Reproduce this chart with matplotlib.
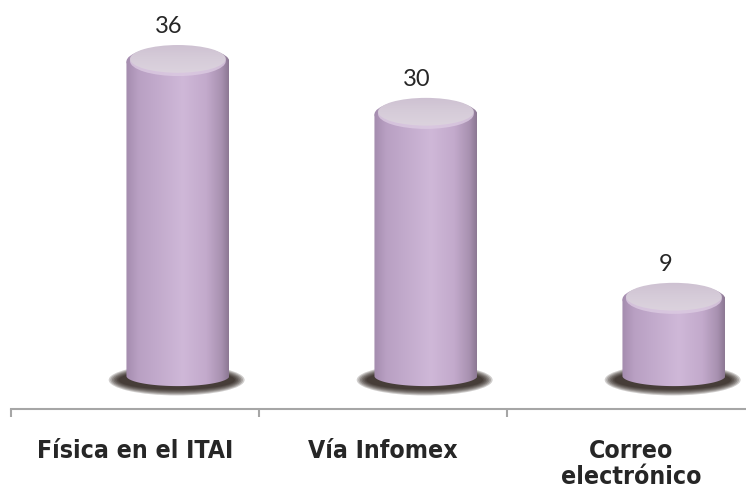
import numpy as np
import matplotlib
matplotlib.use("Agg")
import matplotlib.pyplot as plt
from matplotlib.patches import Ellipse, PathPatch
from matplotlib.path import Path
from matplotlib.colors import LinearSegmentedColormap

# data
categories = ["Física en el ITAI", "Vía Infomex", "Correo\nelectrónico"]
values = [36, 30, 9]

# look of the cylinders
body_cmap = LinearSegmentedColormap.from_list(
    "body", [(0.0, "#a48cae"), (0.12, "#b9a0c3"), (0.55, "#cfb8d8"),
             (0.78, "#c3aacc"), (0.93, "#a891b0"), (1.0, "#8c7893")])
top_cmap = LinearSegmentedColormap.from_list(
    "top", [(0.0, "#cdc0d1"), (0.5, "#d6ccd9"), (1.0, "#dcd3de")])

fig = plt.figure(figsize=(7.46, 4.89), dpi=100)
ax = fig.add_axes([11 / 746, 79 / 489, 744 / 746, 410 / 489])

width = 0.415      # cylinder width in category units
shift = 0.173      # depth offset of cylinders to the right
top_h = 1.75       # half height of top ellipse (value units)
bot_h = 1.15       # half height of bottom ellipse

t = np.linspace(0, np.pi, 60)
for i, v in enumerate(values):
    cx = i + shift
    x0, x1 = cx - width / 2, cx + width / 2

    # shadow on the floor
    for k in range(7):
        ax.add_patch(Ellipse((cx - 0.005, -0.45), 0.47 + k * 0.013, 2.2 + k * 0.22,
                             facecolor="#160b05", edgecolor="none", alpha=0.2, zorder=1))

    # body with a horizontal shading
    verts = [(x0, v - 0.3), (x1, v - 0.3)]
    verts += [(cx + width / 2 * np.cos(a), -bot_h * np.sin(a)) for a in t]
    verts += [(x0, v)]
    codes = [Path.MOVETO] + [Path.LINETO] * (len(verts) - 2) + [Path.CLOSEPOLY]
    clip = PathPatch(Path(verts, codes), facecolor="none", edgecolor="none")
    ax.add_patch(clip)
    grad = np.linspace(0, 1, 256).reshape(1, -1)
    im = ax.imshow(grad, cmap=body_cmap, extent=(x0, x1, -bot_h - 0.1, v),
                   aspect="auto", zorder=2, interpolation="bicubic")
    im.set_clip_path(clip)

    # rounded rim below the top
    rim = Ellipse((cx, v - 0.3), width, 2 * top_h, facecolor="none", edgecolor="none")
    ax.add_patch(rim)
    im3 = ax.imshow(grad, cmap=body_cmap, extent=(x0, x1, v - 0.3 - top_h, v + top_h),
                    aspect="auto", zorder=3, interpolation="bicubic")
    im3.set_clip_path(rim)
    ax.add_patch(Ellipse((cx, v - 0.25), width * 0.93, 2 * top_h * 0.97,
                         facecolor="#dccbe2", edgecolor="none", alpha=0.8, zorder=3))
    # top face
    top = Ellipse((cx, v), width * 0.93, 2 * top_h * 0.9, facecolor="none",
                  edgecolor="none")
    ax.add_patch(top)
    im2 = ax.imshow(np.linspace(0, 1, 64).reshape(-1, 1), cmap=top_cmap,
                    extent=(x0, x1, v - top_h, v + top_h), aspect="auto",
                    zorder=4, interpolation="bicubic")
    im2.set_clip_path(top)

    ax.text(cx - 0.035, v + 3.8, str(v), ha="center", va="center",
            fontsize=17, color="#262626", family="Lato")

ax.set_xlim(-0.5, 2.5)
ax.set_ylim(-3.75, 42.8)

for s in ["top", "left", "right"]:
    ax.spines[s].set_visible(False)
ax.spines["bottom"].set_color("#a6a6a6")
ax.spines["bottom"].set_linewidth(1.5)
ax.set_yticks([])
ax.set_xticks([-0.5, 0.5, 1.5, 2.5])
ax.set_xticklabels([])
ax.tick_params(axis="x", which="major", length=6, width=1.5, color="#a6a6a6")
ax.set_xticks([0, 1, 2], categories, minor=True)
ax.tick_params(axis="x", which="minor", length=0, pad=21, labelsize=17.8)
for lab in ax.get_xticklabels(minor=True):
    lab.set_fontweight("bold")
    lab.set_fontstretch("condensed")
    lab.set_color("#262626")
    lab.set_family(["DejaVu Sans"])
    lab.set_linespacing(1.08)

fig.savefig("out.png", dpi=100)
